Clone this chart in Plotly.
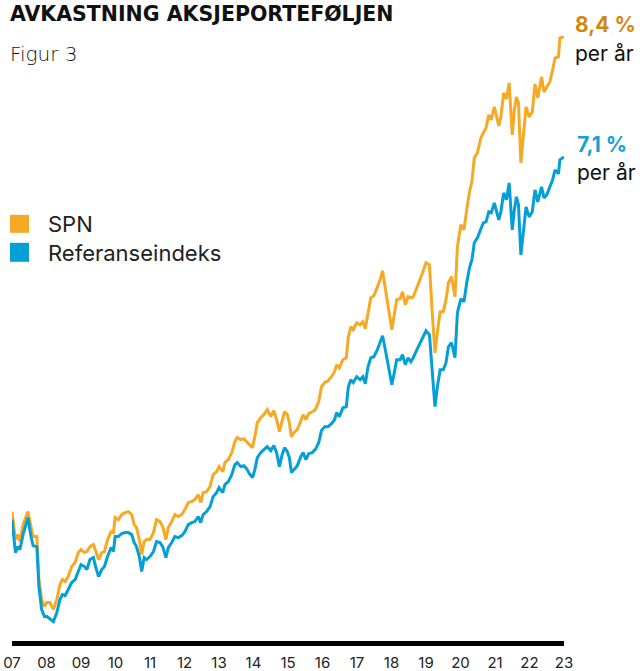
import plotly.graph_objects as go

# Time axis (fractional years as positioned on the chart's axis)
years = [
    2007.00, 2007.10, 2007.17, 2007.23, 2007.32, 2007.46, 2007.55, 2007.61, 2007.72, 2007.78,
    2007.86, 2007.94, 2008.01, 2008.10, 2008.20, 2008.30, 2008.39, 2008.46, 2008.54, 2008.63,
    2008.73, 2008.83, 2008.92, 2009.00, 2009.10, 2009.17, 2009.26, 2009.36, 2009.43, 2009.51,
    2009.60, 2009.68, 2009.77, 2009.87, 2009.94,
    2009.99, 2010.08, 2010.18, 2010.28, 2010.37, 2010.47, 2010.54, 2010.61, 2010.69, 2010.76,
    2010.83, 2010.90, 2011.00, 2011.10, 2011.19, 2011.29, 2011.37, 2011.46, 2011.53, 2011.63,
    2011.72, 2011.82, 2011.92, 2012.01, 2012.11, 2012.21, 2012.30, 2012.40, 2012.47, 2012.54,
    2012.64, 2012.74, 2012.83, 2012.93, 2013.00,
    2013.11, 2013.17, 2013.27, 2013.37, 2013.46, 2013.53, 2013.63, 2013.72, 2013.80, 2013.88,
    2013.97, 2014.04, 2014.11, 2014.21, 2014.30, 2014.40, 2014.50, 2014.59, 2014.67, 2014.75,
    2014.83, 2014.90, 2014.98, 2015.04, 2015.10, 2015.17, 2015.27, 2015.37, 2015.44, 2015.52,
    2015.60, 2015.70, 2015.79, 2015.89, 2015.97, 2016.06, 2016.16, 2016.26, 2016.35, 2016.41,
    2016.49,
    2016.59, 2016.69, 2016.75, 2016.82, 2016.89, 2016.99, 2017.09, 2017.17, 2017.24, 2017.32,
    2017.40, 2017.49, 2017.59, 2017.67, 2017.74, 2017.81, 2017.91, 2018.01, 2018.08, 2018.15,
    2018.25, 2018.32, 2018.40, 2018.48, 2018.56, 2018.63, 2018.71, 2018.81, 2018.90, 2019.00,
    2019.10, 2019.17, 2019.26, 2019.33,
    2019.41, 2019.50, 2019.58, 2019.65, 2019.74, 2019.84, 2019.91, 2020.01, 2020.10, 2020.18,
    2020.26, 2020.33, 2020.40, 2020.49, 2020.59, 2020.66, 2020.74, 2020.82, 2020.89, 2020.98,
    2021.11, 2021.17, 2021.25, 2021.33, 2021.41, 2021.50, 2021.56, 2021.62, 2021.68, 2021.75,
    2021.82, 2021.90, 2021.99, 2022.08, 2022.16, 2022.24, 2022.35, 2022.42, 2022.50, 2022.59,
    2022.67, 2022.74, 2022.84, 2022.88, 2023.00,
]

# Value index, SPN
spn = [
    91.5, 77.5, 80, 76.5, 85, 91.5, 84, 79, 79, 57.5,
    47.5, 44, 46, 46, 42.5, 47.5, 55, 57.5, 56.5, 59,
    64, 66, 71, 72.5, 71, 71.5, 74, 75, 71.5, 67.5,
    71, 71.5, 77.5, 81.5, 81,
    88.5, 87.5, 90, 91, 91.5, 90, 85, 83.5, 77.5, 70,
    76.5, 77.5, 77.5, 81, 87.5, 86.5, 84, 77.5, 83.5, 86.5,
    90, 89, 90, 92.5, 96, 96.5, 97.5, 100, 96, 101,
    101.5, 104, 110, 111.5, 114,
    111.5, 116, 117.5, 121, 126.5, 128.5, 127.5, 128, 126.5, 125,
    123.5, 129, 136, 138.5, 140, 142.5, 139, 142, 137.5, 131.5,
    137.5, 141.5, 140, 136, 129, 131, 132.5, 137.5, 140, 137.5,
    140.5, 141.5, 142.5, 146.5, 154, 156, 157, 159, 161.5, 165,
    163.5,
    167.5, 168.5, 179, 184, 182.5, 186, 185, 186.5, 183, 191.5,
    198.5, 199.5, 203.5, 207.5, 212, 204, 192.5, 182.5, 190, 197.5,
    198, 201.5, 195, 199, 198.5, 199, 202.5, 206.5, 211, 216,
    215, 194, 171, 181,
    191.5, 191.5, 197.5, 206, 209, 199, 224, 235, 232.5, 242.5,
    251.5, 256.5, 268.5, 271, 278.5, 281, 283.5, 290, 287.5, 294,
    284.5, 289, 301, 298, 306, 280, 292.5, 299, 296, 266,
    281, 294, 289, 291.5, 305.5, 298.5, 309, 301.5, 304, 306.5,
    312.5, 318.5, 319, 328.5, 329,
]

# Value index, reference index
ref = [
    87.5, 71, 74, 72.5, 80, 88.5, 79, 74.5, 74, 54,
    42.5, 39, 39, 38, 36.5, 41, 47.5, 50, 49.5, 52.5,
    56, 57.5, 61.5, 65, 64, 62.5, 67.5, 68.5, 63.5, 59,
    62.5, 64, 69, 73.5, 71.5,
    79, 79, 80.5, 81, 81, 80, 76, 74, 69, 61.5,
    68.5, 67.5, 69, 71.5, 76.5, 76, 74, 68.5, 73.5, 76,
    79, 78.5, 79.5, 81.5, 85, 86, 86.5, 89, 86, 90,
    91.5, 94, 99, 101, 103.5,
    101, 105, 106.5, 110, 115, 116, 114, 114.5, 113, 110.5,
    108.5, 112.5, 118.5, 121, 122.5, 124, 122, 124.5, 121, 114,
    120, 123.5, 121.5, 118.5, 111, 112.5, 114.5, 119, 121, 117.5,
    120.5, 121, 122.5, 126, 132, 134, 134, 135.5, 137.5, 141,
    139,
    143.5, 144, 154, 157.5, 156, 159, 157.5, 159, 155.5, 164,
    168.5, 169, 172.5, 176, 179.5, 173.5, 163.5, 155, 161, 167.5,
    167.5, 170, 165, 168.5, 166.5, 168.5, 171.5, 175, 178, 182,
    180, 164, 144, 154,
    162.5, 162.5, 166, 174, 176, 168.5, 191, 198, 196.5, 206,
    213.5, 217.5, 226, 228.5, 233.5, 236, 236.5, 241.5, 241, 246,
    237.5, 241.5, 251, 247.5, 256, 232.5, 242.5, 249, 245, 220,
    231, 244, 239, 241.5, 252.5, 246.5, 254, 248.5, 250, 253.5,
    257.5, 262.5, 260.5, 267.5, 269,
]

tick_years = list(range(2007, 2024))
tick_labels = ["07", "08", "09", "10", "11", "12", "13", "14", "15", "16",
               "17", "18", "19", "20", "21", "22", "23"]

series_names = ["SPN", "Referanseindeks"]
annual_returns = ["8,4 %", "7,1 %"]

ORANGE = "#F6A924"
BLUE = "#049FD6"
ORANGE_TXT = "#D4870E"
BLUE_TXT = "#1A9FD3"
FONT = "Inter"

fig = go.Figure()
fig.add_trace(go.Scatter(x=years, y=spn, mode="lines", name=series_names[0],
                         line=dict(color=ORANGE, width=3), showlegend=False))
fig.add_trace(go.Scatter(x=years, y=ref, mode="lines", name=series_names[1],
                         line=dict(color=BLUE, width=3), showlegend=False))

W, H = 640, 671
L, R, T, B = 12, 76, 20, 29.5
pw, ph = W - L - R, H - T - B


def px(xw):  # window x -> paper
    return (xw - L) / pw


def py(yw):  # window y -> paper
    return (H - B - yw) / ph


shapes = [
    dict(type="rect", xref="paper", yref="paper", x0=px(10), x1=px(29), y0=py(233), y1=py(215),
         fillcolor=ORANGE, line=dict(width=0)),
    dict(type="rect", xref="paper", yref="paper", x0=px(10), x1=px(29), y0=py(262), y1=py(243),
         fillcolor=BLUE, line=dict(width=0)),
]

annotations = [
    dict(text="AVKASTNING AKSJEPORTEFØLJEN", x=px(8), y=py(14), xanchor="left", yanchor="middle",
         font=dict(family="DejaVu Sans", size=20.5, color="#111", weight="bold")),
    dict(text="Figur 3", x=px(8), y=py(54), xanchor="left", yanchor="middle",
         font=dict(family="DejaVu Sans", size=20, color="#111", weight=200)),
    dict(text=series_names[0], x=px(46), y=py(224), xanchor="left", yanchor="middle",
         font=dict(family=FONT, size=22, color="#222")),
    dict(text=series_names[1], x=px(46), y=py(253), xanchor="left", yanchor="middle",
         font=dict(family=FONT, size=22, color="#222")),
    dict(text="<b>" + annual_returns[0] + "</b>", x=px(573), y=py(25), xanchor="left", yanchor="middle",
         font=dict(family=FONT, size=21, color=ORANGE_TXT)),
    dict(text="per år", x=px(573), y=py(54), xanchor="left", yanchor="middle",
         font=dict(family=FONT, size=21, color="#111")),
    dict(text="<b>" + annual_returns[1] + "</b>", x=px(575), y=py(145), xanchor="left", yanchor="middle",
         font=dict(family=FONT, size=21, color=BLUE_TXT)),
    dict(text="per år", x=px(575), y=py(173), xanchor="left", yanchor="middle",
         font=dict(family=FONT, size=21, color="#111")),
]
for a in annotations:
    a.update(xref="paper", yref="paper", showarrow=False)

fig.update_layout(
    width=W, height=H,
    margin=dict(l=L, r=R, t=T, b=B, pad=0),
    paper_bgcolor="white", plot_bgcolor="white",
    showlegend=False,
    shapes=shapes,
    annotations=annotations,
    xaxis=dict(range=[2007, 2023], tickvals=tick_years, ticktext=tick_labels, automargin=False,
               showgrid=False, zeroline=False, showline=True, linecolor="black", linewidth=5,
               ticks="", tickfont=dict(family=FONT, size=15, color="#222"), ticklabelstandoff=4),
    yaxis=dict(range=[26.75, 337.5], showgrid=False, zeroline=False, showticklabels=False,
               showline=False, automargin=False),
)

fig.write_html("out.html", config={"displayModeBar": False},
               post_script="document.body.style.margin='0';")
